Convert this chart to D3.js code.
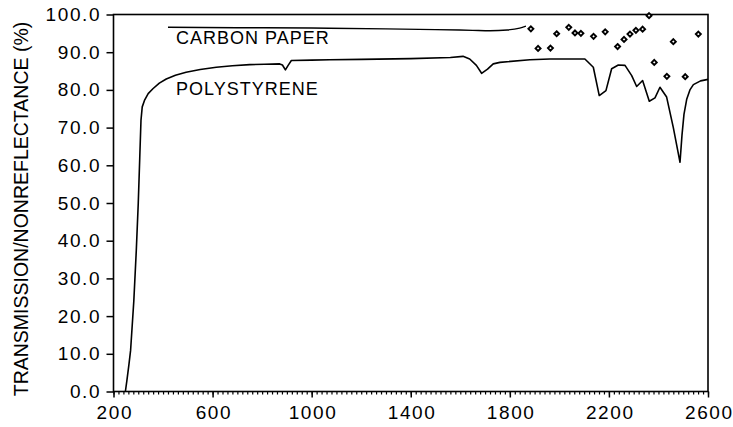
<!DOCTYPE html>
<html>
<head>
<meta charset="utf-8">
<script src="https://cdn.jsdelivr.net/npm/d3@7/dist/d3.min.js"></script>
<style>
  body { margin: 0; background: #fff; }
  svg { display: block; }
  text { font-family: "Liberation Sans", Arial, sans-serif; fill: #000; }
</style>
</head>
<body>
<svg id="chart" width="733" height="427"></svg>
<script>
// Polystyrene transmission spectrum (wavelength nm, %)
const polyWavelength = [248, 254, 262, 269, 282, 292, 300, 306, 311, 316, 325, 340, 359, 385, 413, 450, 493, 550, 615, 680, 750, 810, 871, 882, 894, 905, 918, 1000, 1073, 1200, 1400, 1560, 1611, 1638, 1665, 1686, 1710, 1733, 1760, 1881, 1962, 2103, 2137, 2161, 2188, 2211, 2238, 2265, 2292, 2312, 2336, 2363, 2386, 2406, 2433, 2460, 2487, 2495, 2503, 2514, 2527, 2541, 2570, 2600];
const polyValue      = [0, 2.9, 7, 10.9, 24, 37.4, 50, 62, 72, 75.5, 77.2, 79.0, 80.3, 81.8, 82.9, 83.9, 84.7, 85.4, 86.0, 86.4, 86.7, 86.8, 86.9, 86.6, 85.3, 86.5, 87.8, 87.9, 88.0, 88.1, 88.3, 88.6, 88.9, 88.2, 86.5, 84.4, 85.5, 86.9, 87.3, 88.0, 88.2, 88.2, 86.0, 78.5, 79.8, 85.6, 86.6, 86.5, 83.8, 80.9, 82.5, 77.0, 77.9, 80.7, 78.1, 70.0, 60.8, 68.0, 73.5, 77.5, 80.0, 81.4, 82.4, 82.8];

// Carbon paper nonreflectance, continuous trace
const carbonWavelength = [420, 700, 1000, 1300, 1500, 1650, 1720, 1790, 1840, 1865];
const carbonValue      = [96.6, 96.5, 96.4, 96.2, 96.0, 95.8, 95.7, 95.9, 96.4, 96.9];

// Carbon paper nonreflectance, individual readings
const carbonPtWavelength = [1885, 1914, 1964, 1989, 2038, 2063, 2087, 2138, 2185, 2235, 2261, 2285, 2309, 2336, 2362, 2383, 2434, 2460, 2508, 2561];
const carbonPtValue      = [96.2, 91.0, 91.1, 94.9, 96.6, 95.1, 95.0, 94.2, 95.4, 91.5, 93.4, 94.8, 95.8, 96.1, 99.7, 87.3, 83.6, 92.8, 83.5, 94.8];

// Axis ticks
const xMajorTicks = [200, 600, 1000, 1400, 1800, 2200, 2600];
const xMinorTicks = d3.range(200, 2601, 20);
const yTicks = [0, 10, 20, 30, 40, 50, 60, 70, 80, 90, 100];

const seriesLabels = ["CARBON PAPER", "POLYSTYRENE"];
const yTitle = "TRANSMISSION/NONREFLECTANCE (%)";

const svg = d3.select("#chart");
const plot = { left: 113.5, right: 708, top: 14.5, bottom: 391.5 };
const tickFont = 19, tickSpacing = 1.6;

const x = d3.scaleLinear().domain([200, 2600]).range([plot.left, plot.right]);
const y = d3.scaleLinear().domain([0, 100]).range([plot.bottom, plot.top]);

// Frame
svg.append("rect")
  .attr("x", plot.left).attr("y", plot.top)
  .attr("width", plot.right - plot.left).attr("height", plot.bottom - plot.top)
  .attr("fill", "none").attr("stroke", "#000").attr("stroke-width", 1.6);

// X axis: minor ticks every 20 nm, labelled major ticks every 400 nm
const xMinor = svg.append("g").attr("transform", `translate(0,${plot.bottom})`)
  .call(d3.axisBottom(x).tickValues(xMinorTicks).tickSize(3).tickFormat(""));
xMinor.select(".domain").remove();
xMinor.selectAll("line").attr("stroke", "#000").attr("stroke-width", 1.2);

const xMajor = svg.append("g").attr("transform", `translate(0,${plot.bottom})`)
  .call(d3.axisBottom(x).tickValues(xMajorTicks).tickSize(6).tickPadding(8).tickFormat(d3.format("d")));
xMajor.select(".domain").remove();
xMajor.selectAll("line").attr("stroke", "#000").attr("stroke-width", 1.5);
xMajor.selectAll("text")
  .attr("font-size", tickFont).attr("letter-spacing", tickSpacing)
  .attr("dx", tickSpacing / 2).attr("fill", "#000")
  .style("font-family", "'Liberation Sans', Arial, sans-serif");

// Y axis
const yAxis = svg.append("g").attr("transform", `translate(${plot.left},0)`)
  .call(d3.axisLeft(y).tickValues(yTicks).tickSize(7).tickPadding(7).tickFormat(d3.format(".1f")));
yAxis.select(".domain").remove();
yAxis.selectAll("line").attr("stroke", "#000").attr("stroke-width", 1.5);
yAxis.selectAll("text")
  .attr("font-size", tickFont).attr("letter-spacing", tickSpacing)
  .attr("dx", tickSpacing).attr("fill", "#000")
  .style("font-family", "'Liberation Sans', Arial, sans-serif");

// Y axis title
svg.append("text")
  .attr("transform", "translate(27.5,209) rotate(-90)")
  .attr("text-anchor", "middle")
  .attr("font-size", 19.5)
  .text(yTitle);

// Spectra
const line = d3.line().x(d => x(d[0])).y(d => y(d[1]));

svg.append("path")
  .datum(polyWavelength.map((w, i) => [w, polyValue[i]]))
  .attr("d", line)
  .attr("fill", "none").attr("stroke", "#000").attr("stroke-width", 1.6)
  .attr("stroke-linejoin", "round");

svg.append("path")
  .datum(carbonWavelength.map((w, i) => [w, carbonValue[i]]))
  .attr("d", line.curve(d3.curveMonotoneX))
  .attr("fill", "none").attr("stroke", "#000").attr("stroke-width", 1.4);

svg.append("g").selectAll("path")
  .data(carbonPtWavelength.map((w, i) => [w, carbonPtValue[i]]))
  .join("path")
  .attr("transform", d => `translate(${x(d[0])},${y(d[1])})`)
  .attr("d", d3.symbol(d3.symbolDiamond2, 16))
  .attr("fill", "#fff").attr("stroke", "#000").attr("stroke-width", 1.9);

// Series labels
svg.append("text").attr("x", 176).attr("y", 44).attr("font-size", 18)
  .attr("letter-spacing", 1).text(seriesLabels[0]);
svg.append("text").attr("x", 176).attr("y", 95).attr("font-size", 18)
  .attr("letter-spacing", 1).text(seriesLabels[1]);
</script>
</body>
</html>
